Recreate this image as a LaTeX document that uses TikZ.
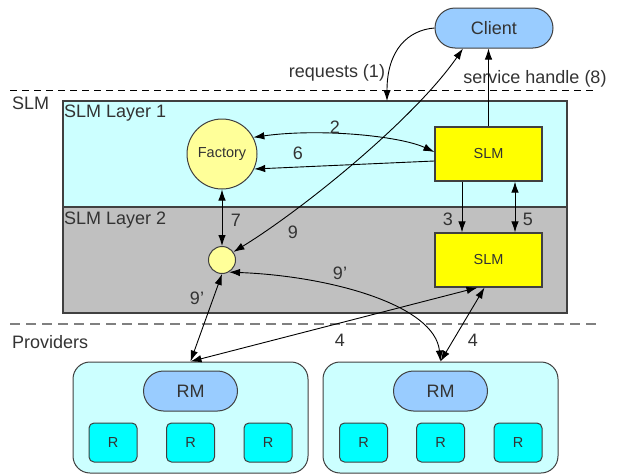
\documentclass[tikz,border=0pt]{standalone}
\usepackage{fontspec}
\setmainfont{Liberation Sans}
\usetikzlibrary{arrows.meta}
\definecolor{clientblue}{HTML}{99CCFF}
\definecolor{layerone}{HTML}{CCFFFF}
\definecolor{layertwo}{HTML}{C0C0C0}
\definecolor{factoryfill}{HTML}{FFFF99}
\definecolor{slmfill}{HTML}{FFFF00}
\definecolor{resfill}{HTML}{00FFFF}
\definecolor{edgegray}{HTML}{404040}
\definecolor{txt}{HTML}{333333}
\definecolor{dashgray}{HTML}{808080}
\tikzset{
  bigtext/.style={font=\fontsize{18}{20}\selectfont, text=txt},
  smalltext/.style={font=\fontsize{14.5}{16}\selectfont, text=txt},
  layerbox/.style={draw=edgegray, line width=1.5pt, inner sep=0pt},
  pill/.style={draw=edgegray, line width=1pt, fill=clientblue, rounded corners=20pt,
    minimum width=94pt, minimum height=40pt, inner sep=0pt, bigtext},
  slmbox/.style={draw=edgegray, line width=1.2pt, fill=slmfill, minimum width=107pt,
    minimum height=54pt, inner sep=0pt, smalltext},
  provbox/.style={draw=edgegray, line width=1pt, fill=layerone, rounded corners=17pt,
    minimum width=235pt, minimum height=111pt, inner sep=0pt},
  resbox/.style={draw=edgegray, line width=1pt, fill=resfill, rounded corners=5pt,
    minimum width=48pt, minimum height=39pt, inner sep=0pt, smalltext},
  conn/.style={line width=0.9pt, black},
  >={Latex[length=11pt,width=7.5pt]},
}
\begin{document}
\begin{tikzpicture}[x=1pt,y=-1pt]
\useasboundingbox (0,0) rectangle (630,474);

% separators between the zones
\draw[black, line width=1pt, dash pattern=on 7pt off 5pt] (10,90) -- (595,90);
\draw[dashgray, line width=2pt, dash pattern=on 10pt off 6pt] (10,324) -- (597,324);

% zone titles
\node[bigtext, anchor=west, inner sep=0pt] (slmzone) at (12,103) {SLM};
\node[bigtext, anchor=west, inner sep=0pt] (provzone) at (12,342) {Providers};

% the two SLM layers
\node[layerbox, fill=layerone, minimum width=504pt, minimum height=106pt] (layer1) at (315,154) {};
\node[layerbox, fill=layertwo, minimum width=504pt, minimum height=106pt] (layer2) at (315,260) {};
\node[bigtext, anchor=west, inner sep=0pt] (l1title) at (64,113) {SLM Layer 1};
\node[bigtext, anchor=west, inner sep=0pt] (l2title) at (64,220) {SLM Layer 2};

% client
\node[pill, minimum width=118pt] (client) at (494,28) {Client};

% factory and the component it creates
\node[circle, draw=edgegray, line width=1pt, fill=factoryfill, minimum size=70pt,
      inner sep=0pt, smalltext] (factory) at (222,154) {Factory};
\node[circle, draw=edgegray, line width=1pt, fill=factoryfill, minimum size=27pt,
      inner sep=0pt] (small) at (222,260) {};

% SLM instances
\node[slmbox] (slm1) at (488.5,154) {SLM};
\node[slmbox] (slm2) at (488.5,260) {SLM};

% providers
\node[provbox] (prov1) at (190.5,417.5) {};
\node[provbox] (prov2) at (440.5,417.5) {};
\node[pill] (rm1) at (190.5,391) {RM};
\node[pill] (rm2) at (440.5,391) {RM};
\node[resbox] (r11) at (113,442.5) {R};
\node[resbox] (r12) at (190.5,442.5) {R};
\node[resbox] (r13) at (268,442.5) {R};
\node[resbox] (r21) at (363.5,442.5) {R};
\node[resbox] (r22) at (440.5,442.5) {R};
\node[resbox] (r23) at (518,442.5) {R};

% connectors
\coordinate (reqin) at (387,101);
\draw[conn, ->] (client.west) .. controls (408,30) and (387,50) .. (reqin);
\draw[conn, ->] (slm1.north) -- (slm1.north |- client.south);
\draw[conn, <->] ([xshift=-31pt]client.south) .. controls (415,118) and (305,208) .. (small.35);
\draw[conn, <->] (factory.28) .. controls (320,128) and (400,136) .. ([yshift=2pt]slm1.west);
\draw[conn, ->] ([yshift=-7pt]slm1.west) -- (factory.-25);
\draw[conn, <->] (factory.south) -- (small.north);
\draw[conn, ->] ([xshift=-26.5pt]slm1.south) -- ([xshift=-26.5pt]slm2.north);
\draw[conn, <->] ([xshift=26.5pt]slm1.south) -- ([xshift=26.5pt]slm2.north);
\draw[conn, <->] (small.-60) .. controls (330,276) and (435,305) .. (prov2.north);
\draw[conn, <->] (small.south) -- (prov1.north);
\draw[conn, <->] (prov1.north) -- ([xshift=-11pt]slm2.south);
\draw[conn, <->] (prov2.north) -- ([xshift=-4pt]slm2.south);

% connector labels
\node[bigtext] (lreq) at (337,73) {requests (1)};
\node[bigtext] (lsh) at (535,79) {service handle (8)};
\node[bigtext] (ltwo) at (335,127) {2};
\node[bigtext] (lsix) at (298,153) {6};
\node[bigtext] (lseven) at (236,220) {7};
\node[bigtext] (lnine) at (293,232) {9};
\node[bigtext] (lthree) at (448,219) {3};
\node[bigtext] (lfive) at (528,219) {5};
\node[bigtext] (lninea) at (340,273) {9'};
\node[bigtext] (lnineb) at (197,298) {9'};
\node[bigtext] (lfoura) at (340,340) {4};
\node[bigtext] (lfourb) at (473,340) {4};
\end{tikzpicture}
\end{document}
